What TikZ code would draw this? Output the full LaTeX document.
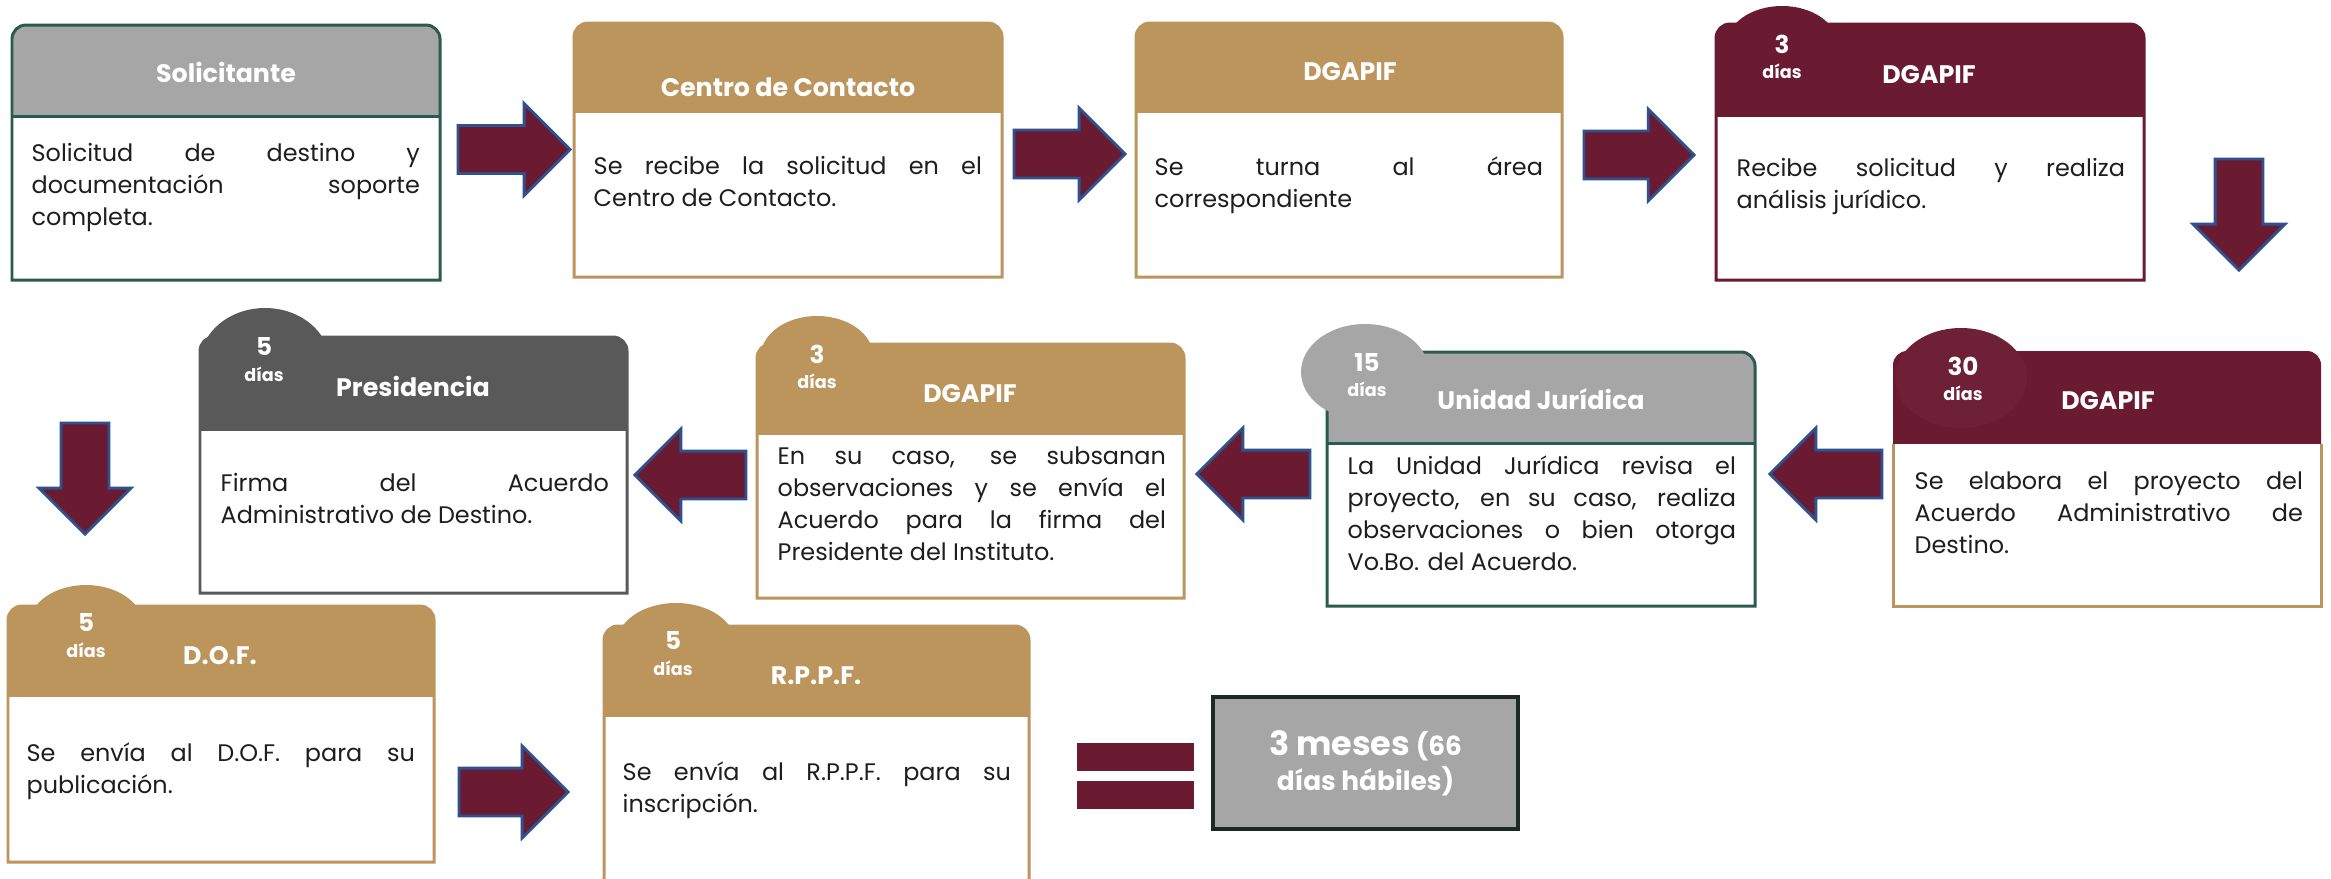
\documentclass[tikz,border=0pt]{standalone}
\usepackage{fontspec}
\setmainfont{Poppins}
\usetikzlibrary{shapes.arrows}
\definecolor{gris}{HTML}{A6A6A6}
\definecolor{grisosc}{HTML}{595959}
\definecolor{oro}{HTML}{BC955C}
\definecolor{guinda}{HTML}{6A1A31}
\definecolor{guindados}{HTML}{6E2136}
\definecolor{verde}{HTML}{2B5B4E}
\definecolor{azul}{HTML}{2F528F}
\definecolor{negro}{HTML}{1E1E1E}
\definecolor{bordetot}{HTML}{1B2A25}

\begin{document}
\begin{tikzpicture}[x=0.01cm,y=-0.01cm,
  titulo/.style={anchor=base, inner sep=0pt, text=white, font=\fontsize{7.2}{8}\selectfont\bfseries},
  numero/.style={anchor=base, inner sep=0pt, text=white, font=\fontsize{7}{8}\selectfont\bfseries},
  dias/.style={anchor=base, inner sep=0pt, text=white, font=\fontsize{5}{6}\selectfont\bfseries},
  texto/.style={anchor=north west, inner sep=0pt, text width=3.88cm, align=justify, text=negro, font=\fontsize{6.8}{9.1}\selectfont},
  borde/.style={draw=#1, line width=0.85pt},
  flecha/.style={single arrow, anchor=tail, fill=guinda, draw=azul, line width=0.8pt, minimum height=1.12cm, minimum width=0.89cm, inner xsep=0pt, inner ysep=0.225cm, single arrow head extend=0.22cm, single arrow tip angle=90, outer sep=0pt},
  total/.style={fill=gris, draw=bordetot, line width=1.2pt, minimum width=3.05cm, minimum height=1.32cm, inner sep=0pt, text=white, align=center, font=\fontsize{7.5}{9.9}\selectfont\bfseries}]
\useasboundingbox (0,0) rectangle (2331,878);
\fill[white] (0,0) rectangle (2331,878);

% fila 1
\fill[gris, rounded corners=0.14cm] (12,25) rectangle (440,136);
\fill[white] (12,116) rectangle (440,280);
\draw[borde=verde] (12,280) [rounded corners=0.14cm] -- (12,25) -- (440,25) [sharp corners] -- (440,280) -- cycle;
\draw[borde=verde] (12,116) -- (440,116);
\node[titulo] (sol) at (226,82) {Solicitante};
\node[texto] (txsol) at (31,143) {Solicitud de destino y\linebreak documentación soporte\linebreak completa.};

\fill[oro, rounded corners=0.14cm] (574,23) rectangle (1002,133);
\fill[white] (574,113) rectangle (1002,277);
\draw[borde=oro] (574,277) [rounded corners=0.14cm] -- (574,23) -- (1002,23) [sharp corners] -- (1002,277) -- cycle;
\node[titulo] (cen) at (788,96) {Centro de Contacto};
\node[texto] (txcen) at (593,156) {Se recibe la solicitud en el\linebreak Centro de Contacto.};

\fill[oro, rounded corners=0.14cm] (1136,23) rectangle (1562,133);
\fill[white] (1136,113) rectangle (1562,277);
\draw[borde=oro] (1136,277) [rounded corners=0.14cm] -- (1136,23) -- (1562,23) [sharp corners] -- (1562,277) -- cycle;
\node[titulo] (dga) at (1350,80) {DGAPIF};
\node[texto] (txdga) at (1154,156) {Se turna al área\linebreak correspondiente};

\fill[guinda, rounded corners=0.14cm] (1716,24) rectangle (2144,137);
\fill[white] (1716,117) rectangle (2144,280);
\draw[borde=guinda] (1716,280) [rounded corners=0.14cm] -- (1716,24) -- (2144,24) [sharp corners] -- (2144,280) -- cycle;
\fill[guinda] (1782,44) ellipse [x radius=55, y radius=38];
\node[numero] (n4) at (1782,53) {3};
\node[dias] (d4) at (1782,78) {días};
\node[titulo] (dgb) at (1929,83) {DGAPIF};
\node[texto] (txdgb) at (1736,158) {Recibe solicitud y realiza\linebreak análisis jurídico.};

\node[flecha] (f1) at (458,149.5) {};
\node[flecha, minimum height=1.11cm] (f2) at (1014,154) {};
\node[flecha, minimum height=1.10cm] (f3) at (1584,155) {};
\node[flecha, minimum height=1.11cm, rotate=-90] (f4) at (2239,159) {};

% fila 2
\fill[guinda, rounded corners=0.14cm] (1893,351) rectangle (2321,464);
\fill[white] (1893,444) rectangle (2321,606);
\draw[borde=oro] (1893,444) -- (1893,606) -- (2321,606) -- (2321,444);
\fill[guindados] (1961,378) ellipse [x radius=66, y radius=50];
\node[numero] (n5) at (1963,375) {30};
\node[dias] (d5) at (1963,400) {días};
\node[titulo] (dgc) at (2108,409) {DGAPIF};
\node[texto] (txdgc) at (1914,471) {Se elabora el proyecto del\linebreak Acuerdo Administrativo de\linebreak Destino.};

\fill[gris, rounded corners=0.14cm] (1327,352) rectangle (1755,463);
\fill[white] (1327,443) rectangle (1755,606);
\draw[borde=verde] (1327,606) [rounded corners=0.14cm] -- (1327,352) -- (1755,352) [sharp corners] -- (1755,606) -- cycle;
\draw[borde=verde] (1327,443) -- (1755,443);
\fill[gris] (1365,372) ellipse [x radius=64, y radius=48];
\node[numero] (n6) at (1367,371) {15};
\node[dias] (d6) at (1367,396) {días};
\node[titulo] (uni) at (1541,409) {Unidad Jurídica};
\node[texto] (txuni) at (1347,455) {La Unidad Jurídica revisa el\linebreak proyecto, en su caso, realiza\linebreak observaciones o bien otorga\linebreak Vo.Bo. del Acuerdo.};

\fill[oro, rounded corners=0.14cm] (757,344) rectangle (1184,455);
\fill[white] (757,435) rectangle (1184,598);
\draw[borde=oro] (757,598) [rounded corners=0.14cm] -- (757,344) -- (1184,344) [sharp corners] -- (1184,598) -- cycle;
\fill[oro] (817,356) ellipse [x radius=56, y radius=40];
\node[numero] (n7) at (817,363) {3};
\node[dias] (d7) at (817,388) {días};
\node[titulo] (dgd) at (970,402) {DGAPIF};
\node[texto] (txdgd) at (777,446) {En su caso, se subsanan\linebreak observaciones y se envía el\linebreak Acuerdo para la firma del\linebreak Presidente del Instituto.};

\fill[grisosc, rounded corners=0.14cm] (200,337) rectangle (627,451);
\fill[white] (200,431) rectangle (627,593);
\draw[borde=grisosc] (200,593) [rounded corners=0.14cm] -- (200,337) -- (627,337) [sharp corners] -- (627,593) -- cycle;
\fill[grisosc] (265,363) ellipse [x radius=65, y radius=55];
\node[numero] (n8) at (264,355) {5};
\node[dias] (d8) at (264,381) {días};
\node[titulo] (pre) at (413,396) {Presidencia};
\node[texto] (txpre) at (220,473) {Firma del Acuerdo\linebreak Administrativo de Destino.};

\node[flecha, rotate=180] (f5) at (1882,474) {};
\node[flecha, minimum height=1.13cm, rotate=180] (f6) at (1310,474) {};
\node[flecha, minimum height=1.11cm, rotate=180] (f7) at (746,475) {};
\node[flecha, minimum height=1.11cm, rotate=-90] (f8) at (85,423) {};

% fila 3
\fill[oro, rounded corners=0.14cm] (8,606) rectangle (434,717);
\fill[white] (8,697) rectangle (434,862);
\draw[borde=oro] (8,862) [rounded corners=0.14cm] -- (8,606) -- (434,606) [sharp corners] -- (434,862) -- cycle;
\fill[oro] (86,625) ellipse [x radius=57, y radius=40];
\node[numero] (n9) at (86,631) {5};
\node[dias] (d9) at (86,657) {días};
\node[titulo] (dof) at (220,664) {D.O.F.};
\node[texto] (txdof) at (26,742) {Se envía al D.O.F. para su\linebreak publicación.};

\node[flecha, minimum height=1.09cm] (f9) at (459,792) {};

\fill[oro, rounded corners=0.14cm] (604,626) rectangle (1029,737);
\fill[white] (604,717) rectangle (1029,890);
\draw[borde=oro] (604,890) [rounded corners=0.14cm] -- (604,626) -- (1029,626) [sharp corners] -- (1029,890);
\fill[oro] (676,643) ellipse [x radius=59, y radius=40];
\node[numero] (n10) at (673,649) {5};
\node[dias] (d10) at (673,675) {días};
\node[titulo] (rpp) at (816,684) {R.P.P.F.};
\node[texto] (txrpp) at (622,761) {Se envía al R.P.P.F. para su\linebreak inscripción.};

\fill[guinda] (1077,743) rectangle (1194,771);
\fill[guinda] (1077,781) rectangle (1194,809);
\node[total] (tot) at (1365.5,763) {{\fontsize{9.5}{9.9}\selectfont 3 meses} (66\\días hábiles)};
\end{tikzpicture}
\end{document}
